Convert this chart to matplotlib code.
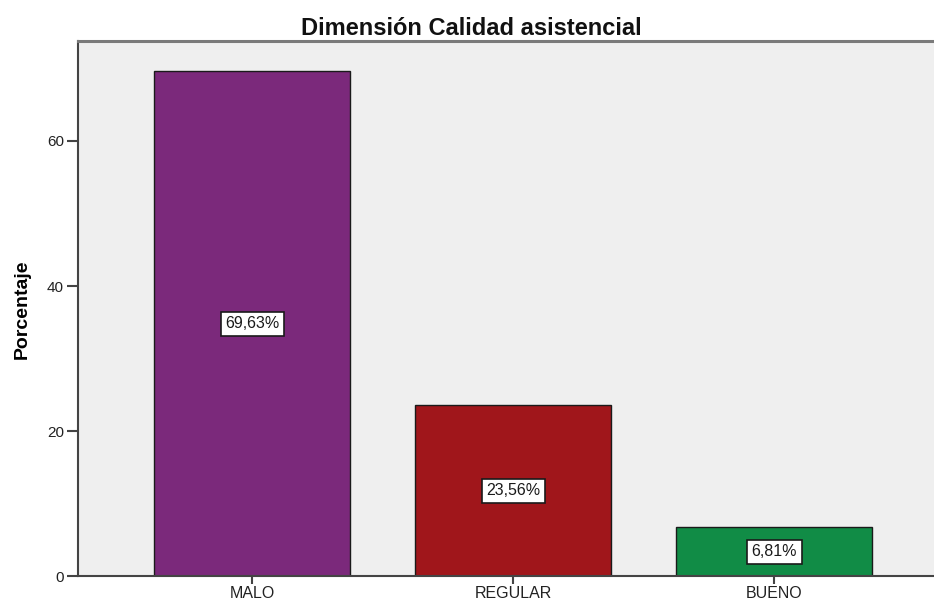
import matplotlib
matplotlib.use("Agg")
import matplotlib.pyplot as plt
from matplotlib import font_manager

categories = ["MALO", "REGULAR", "BUENO"]
percentages = [69.63, 23.56, 6.81]
bar_colors = ["#7B297B", "#A0161B", "#118C46"]
y_ticks = [0, 20, 40, 60]

installed = {f.name for f in font_manager.fontManager.ttflist}
base_font = "Liberation Sans" if "Liberation Sans" in installed else "DejaVu Sans"
plt.rcParams["font.family"] = [base_font, "DejaVu Sans"]

fig = plt.figure(figsize=(9.34, 6.01), dpi=100)
ax = fig.add_axes([0.0835, 0.0408, 1.0155 - 0.0835, 0.8902])
ax.set_facecolor("#EFEFEF")

x = list(range(len(categories)))
bars = ax.bar(x, percentages, width=0.75, color=bar_colors,
              edgecolor="#1A1A1A", linewidth=1.0, zorder=2)

for xi, v in zip(x, percentages):
    label = f"{v:.2f}".replace(".", ",") + "%"
    ax.text(xi, v / 2, label, ha="center", va="center", fontsize=11.5,
            color="#1A1A1A", zorder=3,
            bbox=dict(boxstyle="square,pad=0.28", facecolor="white",
                      edgecolor="#1A1A1A", linewidth=1.2))

ax.set_xlim(-0.667, 2.667)
ax.set_ylim(0, 73.7)
ax.set_xticks(x)
ax.set_xticklabels(categories, fontsize=11.5, color="#222222")
ax.set_yticks(y_ticks)
ax.set_yticklabels([str(t) for t in y_ticks], fontsize=11, color="#222222")
ax.tick_params(axis="y", direction="out", length=8, width=1.5, color="#444444", pad=2)
ax.tick_params(axis="x", direction="out", length=6, width=1.5, color="#444444", pad=1)

for side in ["left", "bottom"]:
    ax.spines[side].set_color("#444444")
    ax.spines[side].set_linewidth(1.5)
ax.spines["top"].set_color("#7A7A7A")
ax.spines["top"].set_linewidth(2.2)
ax.spines["right"].set_visible(False)

fig.text(0.0235, 0.486, "Porcentaje", rotation=90, ha="center", va="center",
         fontsize=14, fontweight="bold")
fig.text(0.505, 0.952, "Dimensión Calidad asistencial", ha="center", va="center",
         fontsize=17, fontweight="bold", color="#111111")

fig.savefig("out.png", dpi=100)
